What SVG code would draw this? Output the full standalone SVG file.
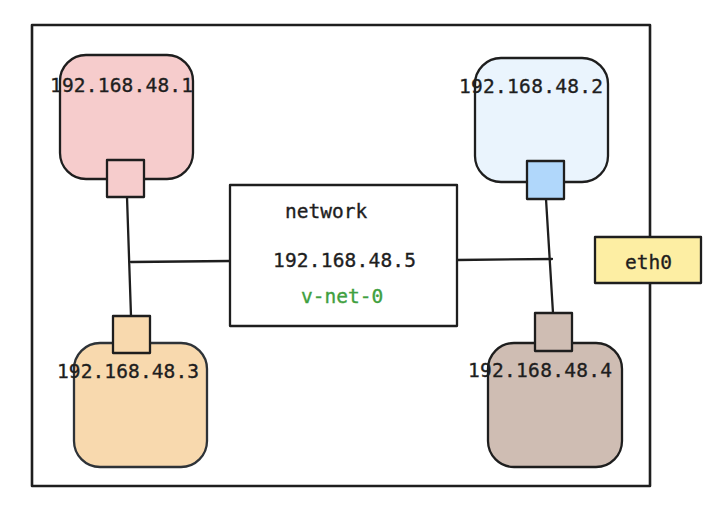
<svg xmlns="http://www.w3.org/2000/svg" width="728" height="522" viewBox="0 0 728 522">
<style>
.s{stroke:#1e1e1e;stroke-width:2.3;fill:none;stroke-linecap:round;stroke-linejoin:round}
.t{font-family:"DejaVu Sans Mono","Liberation Mono",monospace;font-size:19.5px;fill:#1e1e1e;stroke:#1e1e1e;stroke-width:0.35}
.c{stroke:#1e1e1e;stroke-width:2.3;fill:none;stroke-linecap:round}
</style>
<rect width="728" height="522" fill="#fff"/>
<g id="frame"><rect class="s" x="32" y="25" width="618" height="461" style="stroke-width:2.6"/></g>
<g id="connectors">
<path class="c" d="M127 197 L131 316"/>
<path class="c" d="M131 262 L230 261"/>
<path class="c" d="M457 260 L552 259"/>
<path class="c" d="M546 199 L553 313"/>
</g>
<g id="node1">
<rect class="s" x="60" y="55" width="133" height="124" rx="26" style="fill:#f6cccc"/>
<rect class="s" x="107" y="160" width="37" height="37" style="fill:#f6cccc"/>
<text class="t" x="50" y="92" textLength="143">192.168.48.1</text>
</g>
<g id="node2">
<rect class="s" x="475" y="58" width="133" height="124" rx="26" style="fill:#eaf4fd"/>
<rect class="s" x="527" y="161" width="37" height="38" style="fill:#b0d7fb"/>
<text class="t" x="459" y="93" textLength="144">192.168.48.2</text>
</g>
<g id="network">
<rect class="s" x="230" y="185" width="227" height="141" style="fill:#fff"/>
<text class="t" x="285" y="218">network</text>
<text class="t" x="273" y="267" textLength="143">192.168.48.5</text>
<text class="t" x="301" y="303" style="fill:#40a040;stroke:#40a040">v-net-0</text>
</g>
<g id="node3">
<rect class="s" x="74" y="343" width="133" height="124" rx="26" style="fill:#f8d9ae;stroke:#2e3338"/>
<rect class="s" x="113" y="316" width="37" height="37" style="fill:#f8d9ae"/>
<text class="t" x="57" y="378" textLength="142">192.168.48.3</text>
</g>
<g id="node4">
<rect class="s" x="488" y="343" width="134" height="124" rx="26" style="fill:#cfbdb3"/>
<rect class="s" x="535" y="313" width="37" height="38" style="fill:#cfbdb3"/>
<text class="t" x="468" y="377" textLength="144">192.168.48.4</text>
</g>
<g id="eth0">
<rect class="s" x="595" y="237" width="106" height="46" style="fill:#fdeea3"/>
<text class="t" x="625" y="269">eth0</text>
</g>
</svg>
